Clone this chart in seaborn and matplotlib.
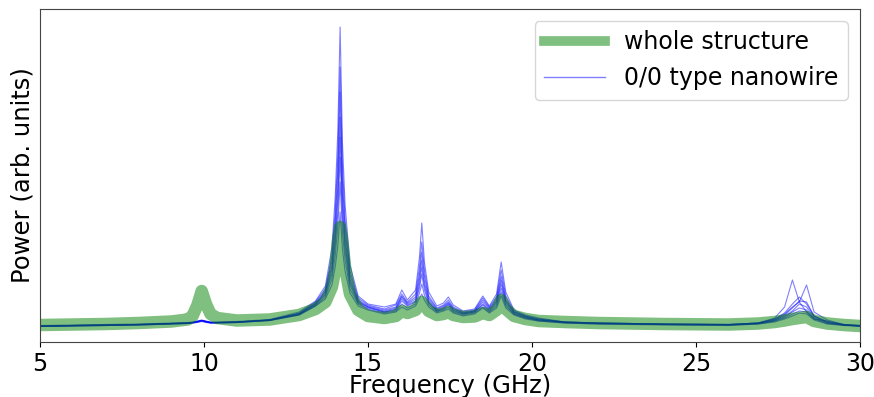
import numpy as np
import pandas as pd
import seaborn as sns
import matplotlib.pyplot as plt
from matplotlib.lines import Line2D

# frequency grid (GHz), denser around the resonances
freq = [5, 6, 7, 8, 9, 9.5, 9.65, 9.8, 9.93, 10.06, 10.2, 10.4, 11, 12, 12.9,
        13.4, 13.7, 13.9, 14.0, 14.08, 14.15, 14.22, 14.3, 14.45, 14.7, 15.0,
        15.5, 15.85, 16.03, 16.2, 16.45, 16.57, 16.64, 16.72, 16.85, 17.1, 17.3,
        17.45, 17.6, 17.9, 18.25, 18.5, 18.7, 18.92, 19.06, 19.2, 19.45, 19.8, 20.2,
        21, 22, 24, 26, 26.9, 27.4, 27.7, 27.94, 28.15, 28.37, 28.6, 29.0, 29.5, 30]

# whole structure spectrum (arb. units)
whole = [17, 17.5, 18, 19, 20.5, 22.5, 26, 37, 51, 38, 28, 24, 21.5, 22.5, 27,
         33, 40, 55, 72, 100, 115, 100, 75, 48, 32, 26,
         24, 26, 31, 29, 32, 37, 40, 37, 31, 27, 28,
         30, 27, 25, 25.5, 29, 27, 32, 42, 33, 26, 23, 21,
         20, 19, 18, 17.5, 18.5, 20, 21.5, 23, 24, 25, 21, 18.5, 17, 16]

# single 0/0 type nanowire spectra (arb. units)
wire_power = [
    [16.5, 17, 17.5, 18, 19, 19.5, 20, 21, 22, 21, 20, 20, 20.5, 22.5, 30,
     41, 56, 94, 145, 211, 315, 200, 138, 77, 46, 38,
     35, 38, 52, 42, 52, 85, 119, 80, 50, 36, 39,
     45, 37, 31, 33, 46, 36, 48, 80, 50, 32, 27, 24,
     20, 19, 18, 17.5, 19, 24, 35, 62, 40, 30, 23, 21, 17.5, 16.5],
    [16, 16.5, 17, 17.5, 18.5, 19, 19.5, 20.5, 21.5, 20.5, 19.5, 19.5, 20, 22, 29,
     40, 53, 86, 130, 186, 275, 177, 123, 71, 44, 37,
     33, 37, 48, 40, 48, 75, 100, 72, 46, 34, 37,
     42, 35, 30, 32, 44, 35, 45, 72, 46, 31, 26, 23,
     20, 19, 18, 17.5, 19, 23, 28, 35, 40, 57, 30, 22, 17.5, 16.5],
    [16, 16.5, 17, 17.5, 18.5, 19, 19.5, 20.5, 21.5, 20.5, 19.5, 19.5, 20, 22, 28.5,
     39, 51, 81, 120, 171, 250, 162, 114, 67, 42, 36,
     32, 35, 46, 39, 45, 68, 90, 66, 44, 33, 36,
     40, 34, 29, 31, 42, 34, 43, 66, 43, 30, 26, 23,
     20, 19, 18, 17.5, 19, 23, 29, 38, 45, 38, 26, 20.5, 17.5, 16.5],
    [16, 16.5, 17, 17.5, 18.5, 19, 19.5, 20.5, 21.5, 20.5, 19.5, 19.5, 20, 22, 28,
     38, 50, 76, 111, 155, 225, 148, 105, 63, 41, 35,
     31, 34, 45, 38, 43, 63, 82, 60, 42, 32, 35,
     39, 33, 29, 31, 40, 33, 41, 62, 41, 30, 25, 22,
     20, 19, 18, 17.5, 19, 22, 27, 34, 41, 40, 26, 20, 17, 16],
    [16, 16.5, 17, 17.5, 18.5, 19, 19.5, 20.5, 21.5, 20.5, 19.5, 19.5, 20, 22, 28,
     38, 48, 72, 103, 143, 205, 136, 98, 60, 40, 35,
     30, 33, 43, 37, 41, 58, 75, 56, 40, 31, 34,
     38, 32, 28, 30, 38, 32, 40, 58, 40, 29, 25, 22,
     19.5, 18.5, 17.5, 17, 18.5, 22, 26, 31, 38, 35, 25, 19.5, 17, 16],
    [15.5, 16, 16.5, 17, 18, 18.5, 19, 20, 21, 20, 19, 19, 19.5, 21.5, 27.5,
     37, 47, 68, 96, 130, 185, 125, 91, 57, 39, 34,
     30, 32, 41, 36, 40, 54, 68, 52, 39, 31, 33,
     37, 31, 28, 30, 37, 31, 38, 54, 38, 28, 24, 22,
     19.5, 18.5, 17.5, 17, 18.5, 21, 25, 30, 34, 32, 24, 19, 17, 16],
    [15.5, 16, 16.5, 17, 18, 18.5, 19, 20, 21, 20, 19, 19, 19.5, 21.5, 27,
     36, 45, 63, 86, 115, 160, 110, 82, 53, 38, 33,
     29, 31, 38, 34, 38, 49, 58, 47, 37, 30, 32,
     35, 30, 27, 29, 35, 30, 36, 50, 36, 28, 24, 21,
     19, 18, 17.5, 17, 18, 21, 24, 28, 31, 30, 23, 18.5, 17, 16],
    [15.5, 16, 16.5, 17, 18, 18.5, 19, 19.5, 20.5, 19.5, 19, 19, 19.5, 21.5, 27,
     36, 43, 57, 75, 96, 130, 93, 71, 49, 36, 32,
     28, 30, 35, 32, 36, 44, 48, 42, 35, 29, 31,
     33, 29, 26, 28, 34, 29, 34, 46, 34, 27, 23, 21,
     19, 18, 17, 16.5, 18, 20, 23, 26, 29, 28, 22, 18, 16.5, 15.5],
]

wires = pd.DataFrame(
    [(i, f, p) for i, row in enumerate(wire_power) for f, p in zip(freq, row)],
    columns=["wire", "freq", "power"],
)
whole_df = pd.DataFrame({"freq": freq, "power": whole})

fig = plt.figure(figsize=(8.74, 3.97), dpi=100)
ax = fig.add_axes([40 / 874, 55 / 397, 820 / 874, 333 / 397])

sns.lineplot(data=wires, x="freq", y="power", units="wire", estimator=None,
             sort=False, color="blue", lw=0.8, alpha=0.5, ax=ax)
sns.lineplot(data=whole_df, x="freq", y="power", sort=False, color="green",
             lw=9, alpha=0.5, solid_joinstyle="round", ax=ax)

ax.set_xlim(5, 30)
ax.set_ylim(0, 333)
ax.set_yticks([])
ax.tick_params(axis="x", labelsize=17)
ax.set_xlabel("Frequency (GHz)", fontsize=17.5, labelpad=-1)
ax.set_ylabel("Power (arb. units)", fontsize=17.5)
for s in ax.spines.values():
    s.set_color("#444444")

handles = [Line2D([], [], color="green", lw=7, alpha=0.5),
           Line2D([], [], color="blue", lw=1, alpha=0.5)]
ax.legend(handles, ["whole structure", "0/0 type nanowire"], loc="upper right",
          fontsize=17, handlelength=2.6, borderaxespad=0.5)

fig.savefig("out.png", dpi=100)
